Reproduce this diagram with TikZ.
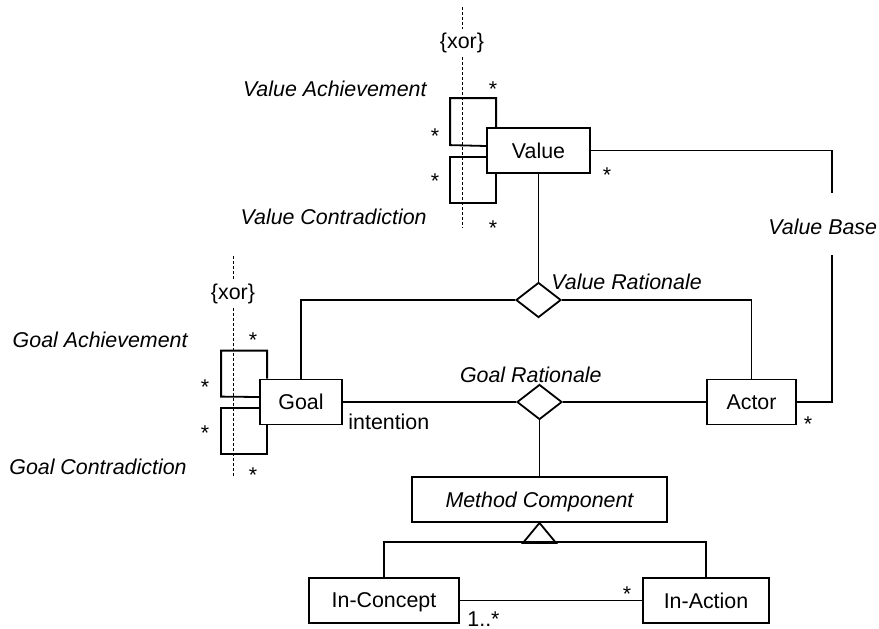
\documentclass[tikz,border=0pt]{standalone}
\usepackage{fontspec}
\setmainfont{Liberation Sans}
\usetikzlibrary{shapes.geometric}

\begin{document}
\fontsize{10.7}{13}\selectfont
\begin{tikzpicture}[
x=0.5pt, y=-0.5pt,
classnode/.style={rectangle, draw, line width=0.9pt, inner sep=0pt, text depth=0pt, minimum height=22.5pt},
relnode/.style={diamond, draw, line width=0.9pt, inner sep=0pt, minimum width=22.5pt, minimum height=17.5pt},
rolelabel/.style={font=\itshape, inner sep=0pt},
multnode/.style={inner sep=0pt},
xornode/.style={inner sep=2pt},
link/.style={line width=0.9pt},
xorline/.style={line width=0.5pt, dash pattern=on 1.4pt off 1.1pt},
]
\useasboundingbox (0,0) rectangle (879,628);

%Nodes
\node[classnode, minimum width=51.5pt]  (value)     at (538.5,150.5) {Value};
\node[classnode, minimum width=41pt]    (goal)      at (301,402)     {Goal};
\node[classnode, minimum width=44.5pt]  (actor)     at (751.5,402)   {Actor};
\node[classnode, minimum width=127.5pt, font=\itshape] (method) at (539.5,499.5) {Method Component};
\node[classnode, minimum width=75pt]    (inconcept) at (384,600.5)   {In-Concept};
\node[classnode, minimum width=63pt]    (inaction)  at (706,600.5)   {In-Action};
\node[relnode]                          (valuerat)  at (538.5,300)   {};
\node[relnode]                          (goalrat)   at (539.5,402)   {};

%Labels
\node[rolelabel, anchor=east]  (vach)   at (427,89)  {Value Achievement};
\node[rolelabel, anchor=east]  (vcon)   at (427,217) {Value Contradiction};
\node[rolelabel, anchor=east]  (gach)   at (188,340) {Goal Achievement};
\node[rolelabel, anchor=east]  (gcon)   at (187,467) {Goal Contradiction};
\node[rolelabel, anchor=west]  (vrat)   at (551,282) {Value Rationale};
\node[rolelabel, anchor=east]  (grat)   at (602,375) {Goal Rationale};
\node[rolelabel, anchor=west]  (vbase)  at (768,227) {Value Base};
\node[multnode, anchor=west]   (intent) at (348,422) {intention};
\node[multnode, anchor=north west] (conmult) at (467,611) {1..*};

%Multiplicities
\node[multnode] (m1)  at (493,89)  {*};
\node[multnode] (m2)  at (435,136) {*};
\node[multnode] (m3)  at (435,181) {*};
\node[multnode] (m4)  at (493,228) {*};
\node[multnode] (m5)  at (607,175) {*};
\node[multnode] (m6)  at (253,340) {*};
\node[multnode] (m7)  at (205,387) {*};
\node[multnode] (m8)  at (205,433) {*};
\node[multnode] (m9)  at (253,475) {*};
\node[multnode] (m10) at (808,424) {*};
\node[multnode] (m11) at (627,594) {*};

%Xor constraints
\node[xornode] (vxor) at (462,43)  {\{xor\}};
\node[xornode] (gxor) at (233,294) {\{xor\}};
\coordinate (vxtop) at (462,7);
\coordinate (vxbot) at (462,228);
\coordinate (gxtop) at (233,256);
\coordinate (gxbot) at (233,478);
\draw[xorline] (vxtop) -- (vxor.north);
\draw[xorline] (vxor.south) -- (vxbot);
\draw[xorline] (gxtop) -- (gxor.north);
\draw[xorline] (gxor.south) -- (gxbot);

%Lines
\coordinate (vbtop)  at (832,193);
\coordinate (vbbot)  at (832,255);
\coordinate (genbar) at (539.5,542);
\draw[link] (value.east) -| (vbtop);
\draw[link] (vbbot) |- (actor.east);
\draw[link] (value.south) -- (valuerat.north);
\draw[link] (goal.north) |- (valuerat.west);
\draw[link] (valuerat.east) -| (actor.north);
\draw[link] (goal.east) -- (goalrat.west);
\draw[link] (goalrat.east) -- (actor.west);
\draw[link] (goalrat.south) -- (method.north);
\draw[link] (method.south) -- ++(-16.5,20) -- ++(33,0) -- cycle;
\draw[link] (inconcept.north) |- (genbar) -| (inaction.north);
\draw[link] (inconcept.east) -- (inaction.west);
%self associations
\draw[link] ([xshift=5pt]value.north west) -- ++(0,-29) -- ++(-46,0) -- ++(0,47) -- ([yshift=2.25pt]value.west);
\draw[link] ([yshift=-3.25pt]value.west) -- ++(-36,0) -- ++(0,46) -- ++(46,0) -- ([xshift=5pt]value.south west);
\draw[link] ([xshift=4pt]goal.north west) -- ++(0,-28) -- ++(-46,0) -- ++(0,46) -- ([yshift=2.5pt]goal.west);
\draw[link] ([yshift=-3pt]goal.west) -- ++(-38,0) -- ++(0,46) -- ++(46,0) -- ([xshift=4pt]goal.south west);
\end{tikzpicture}
\end{document}
